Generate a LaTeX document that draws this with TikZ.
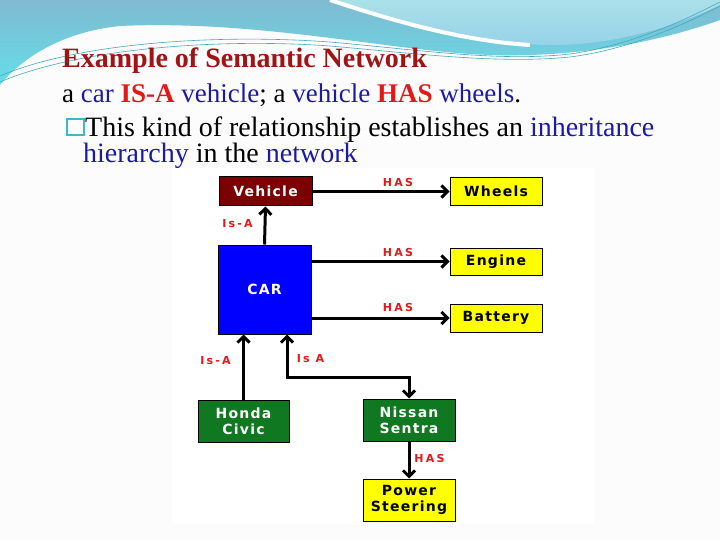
\documentclass[tikz,border=0pt]{standalone}
\usepackage{fontspec}
\setmainfont{Liberation Serif}
\newfontfamily\boxfont[LetterSpace=9]{DejaVu Sans}
\newfontfamily\lblfont[LetterSpace=20]{DejaVu Sans}
\usetikzlibrary{arrows.meta, positioning}

\definecolor{titlered}{RGB}{160,20,20}
\definecolor{textblue}{RGB}{26,26,166}
\definecolor{keyred}{RGB}{228,24,24}
\definecolor{vehred}{RGB}{123,0,0}
\definecolor{carblue}{RGB}{0,0,255}
\definecolor{civgreen}{RGB}{16,120,32}
\definecolor{boxyellow}{RGB}{255,255,0}
\definecolor{bulletteal}{RGB}{60,184,200}
\definecolor{steelblue}{RGB}{128,186,208}
\definecolor{swirlcyan}{RGB}{100,222,234}
\definecolor{lightcyan}{RGB}{170,224,232}
\definecolor{palecyan}{RGB}{150,210,232}
\definecolor{thinline}{RGB}{70,168,192}

\begin{document}
\begin{tikzpicture}[x=1pt, y=-1pt,
    >={Straight Barb[length=6pt,width=12pt]},
    box/.style={draw=black, line width=1pt, align=center, inner sep=0pt,
      font=\boxfont\bfseries\fontsize{14}{16}\selectfont},
    rel/.style={line width=3pt, ->},
    lbl/.style={text=keyred, inner sep=0pt, font=\lblfont\bfseries\fontsize{11}{12}\selectfont},
    txt/.style={anchor=base west, inner sep=0pt, font=\fontsize{28}{34}\selectfont}]
  \useasboundingbox (0,0) rectangle (720,540);
  \fill[white!99!black] (0,0) rectangle (720,540);
  %\draw [step=20pt] (0,0) grid (720,540);

  % background swirl
  \shade[top color=steelblue, bottom color=swirlcyan]
    (0,0) -- (720,0) -- (720,20) .. controls (650,45) and (560,60) .. (470,54)
    .. controls (380,48) and (250,20) .. (120,26) .. controls (60,32) and (20,60) .. (0,85) -- cycle;
  \shade[top color=lightcyan, bottom color=palecyan]
    (330,0) .. controls (420,30) and (500,46) .. (560,45) .. controls (630,43) and (690,20) .. (720,5) -- (720,0) -- cycle;
  \draw[white, line width=4pt] (330,0) .. controls (420,30) and (480,42) .. (530,45);
  \draw[thinline, line width=0.6pt] (0,76) .. controls (80,42) and (220,34) .. (330,42)
    .. controls (420,50) and (500,62) .. (570,54) .. controls (640,44) and (700,12) .. (720,2);
  \draw[thinline, line width=0.6pt] (0,82) .. controls (80,48) and (220,38) .. (330,46)
    .. controls (420,54) and (500,64) .. (570,57) .. controls (640,48) and (700,16) .. (720,6);
  \fill[white] (172,168) rectangle (594,524);

  % slide text
  \node[txt, text=titlered, font=\fontsize{28}{34}\selectfont\bfseries] (title) at (62,68) {Example of Semantic Network};
  \node[txt, font=\fontsize{27}{34}\selectfont] (line2) at (62,103) {a \textcolor{textblue}{car} \textcolor{keyred}{\bfseries IS-A} \textcolor{textblue}{vehicle}; a \textcolor{textblue}{vehicle} \textcolor{keyred}{\bfseries HAS} \textcolor{textblue}{wheels}.};
  \node[draw=bulletteal, line width=2pt, minimum width=17pt, minimum height=16pt, inner sep=0pt, anchor=south west] (bullet) at (66,136) {};
  \node[txt] (line3) at (85,137) {This kind of relationship establishes an \textcolor{textblue}{inheritance}};
  \node[txt] (line4) at (83,163) {\textcolor{textblue}{hierarchy} in the \textcolor{textblue}{network}};

  % network
  \node[box, fill=vehred, text=white, minimum width=93pt, minimum height=29pt] (vehicle) at (265.5,191.5) {Vehicle};
  \node[box, fill=boxyellow, minimum width=92pt, minimum height=28pt] (wheels) at (496,191.5) {Wheels};
  \node[box, fill=boxyellow, minimum width=92pt, minimum height=27pt] (engine) at (496,261.5) {Engine};
  \node[box, fill=boxyellow, minimum width=92pt, minimum height=28pt] (battery) at (496,318) {Battery};
  \node[box, fill=carblue, text=white, minimum width=93pt, minimum height=89pt] (car) at (264.5,289.5) {CAR};
  \node[box, fill=civgreen, text=white, minimum width=91pt, minimum height=42pt] (honda) at (243.5,421) {Honda\\Civic};
  \node[box, fill=civgreen, text=white, minimum width=92pt, minimum height=42pt] (nissan) at (409,420) {Nissan\\Sentra};
  \node[box, fill=boxyellow, minimum width=92pt, minimum height=42pt] (power) at (409,500) {Power\\Steering};
  \coordinate (bend) at (287,377);

  \draw[rel] (vehicle.east) -- (wheels.west);
  \draw[rel] (car.east |- engine.west) -- (engine.west);
  \draw[rel] (car.east |- battery.west) -- (battery.west);
  \draw[rel] (car.north) -- (vehicle.south);
  \draw[rel] (honda.north) -- (honda.north |- car.south);
  \draw[rel, <->] (nissan.north) |- (bend) -- (bend |- car.south);
  \draw[rel] (nissan.south) -- (power.north);

  \node[lbl] (has1) at (398,182) {HAS};
  \node[lbl] (has2) at (398,252.5) {HAS};
  \node[lbl] (has3) at (398,307.5) {HAS};
  \node[lbl] (isa1) at (237.5,224) {Is-A};
  \node[lbl] (isa2) at (215.5,361) {Is-A};
  \node[lbl] (isa3) at (310.5,359) {Is A};
  \node[lbl] (has4) at (429.5,458) {HAS};
\end{tikzpicture}
\end{document}
